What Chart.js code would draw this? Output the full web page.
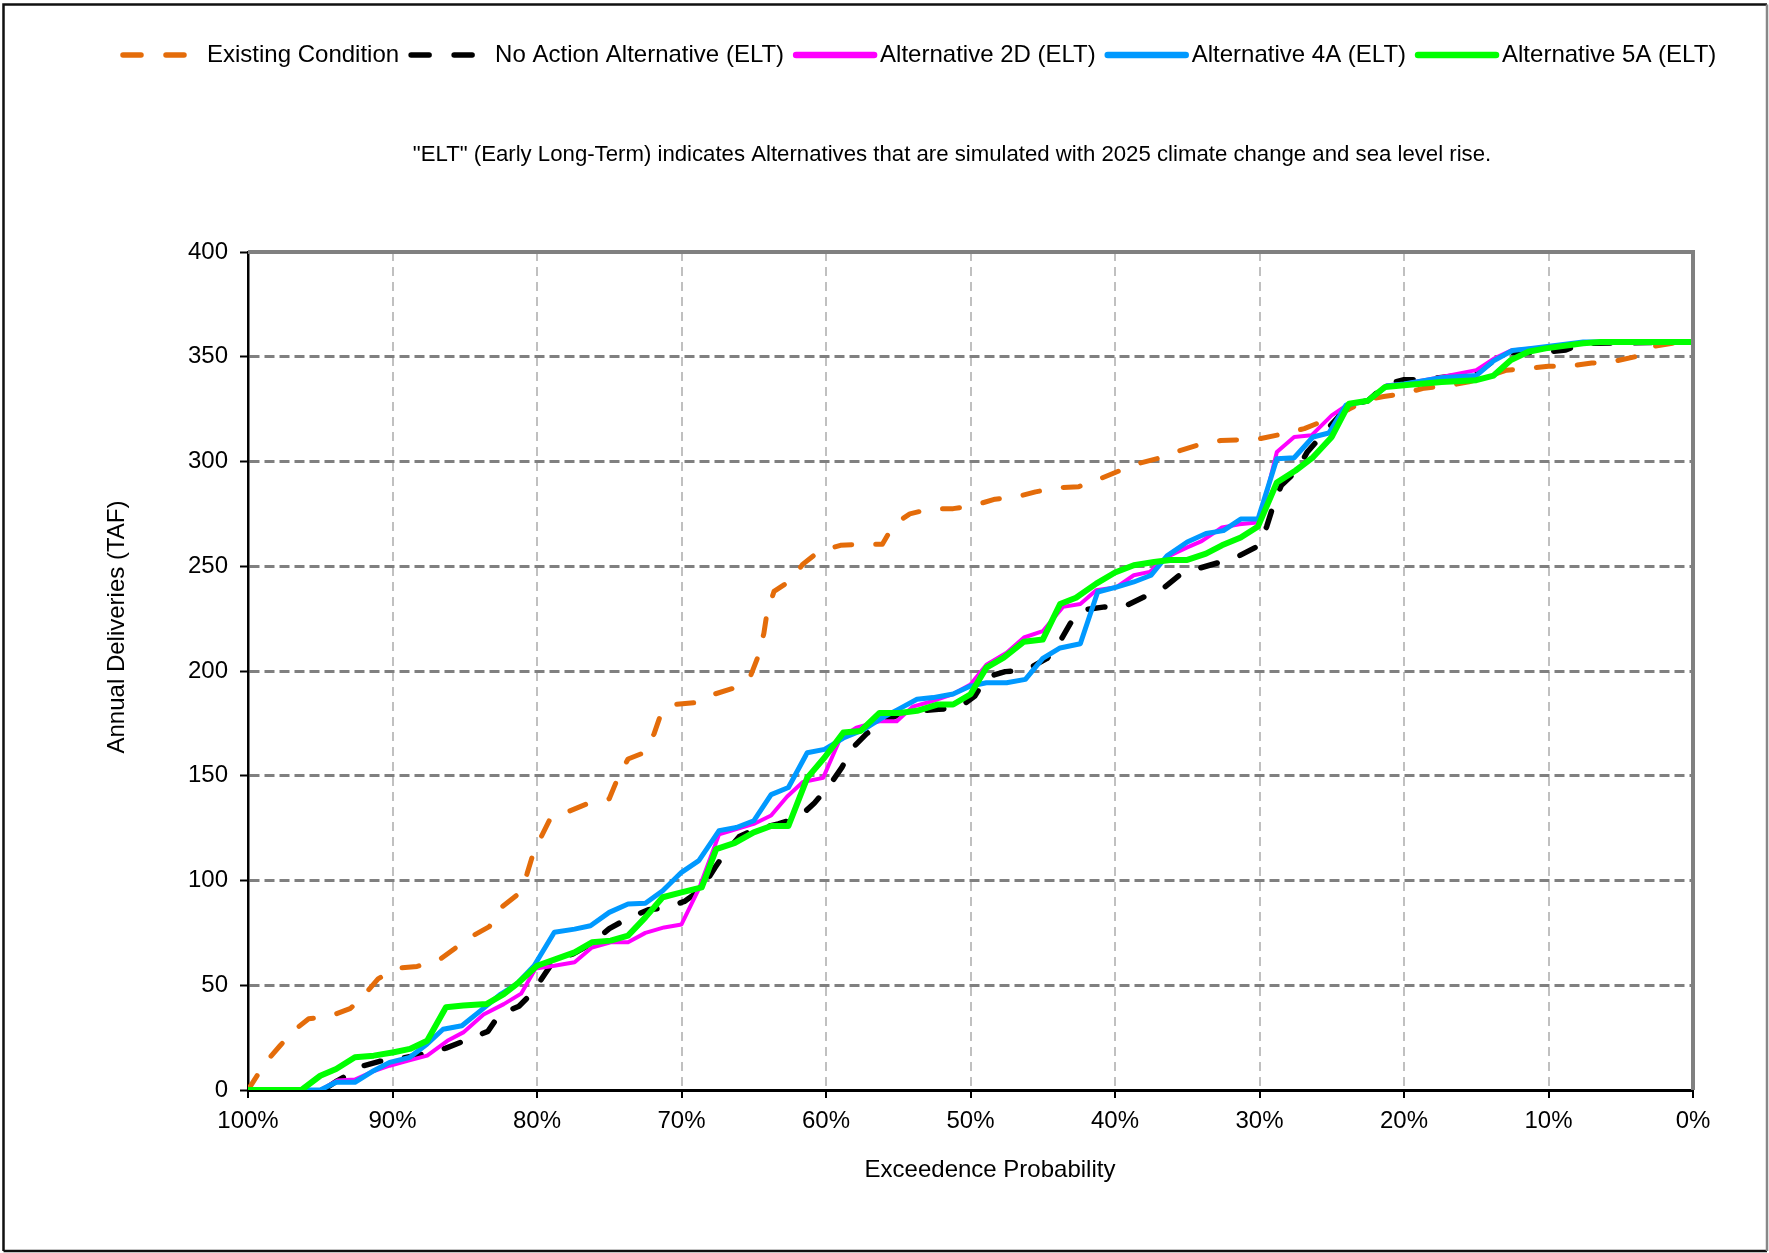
<!DOCTYPE html>
<html>
<head>
<meta charset="utf-8">
<title>Annual Deliveries - Exceedence</title>
<script src="https://cdn.jsdelivr.net/npm/chart.js@4.4.1/dist/chart.umd.min.js"></script>
<style>
  html, body { margin: 0; padding: 0; background: #fff; }
  canvas { display: block; }
</style>
</head>
<body>
<canvas id="deliveryChart" width="1769" height="1253"></canvas>
<script>
// exceedence probability (%) and annual deliveries (TAF) pairs
const existingCondition = [
  [100, 0], [98.8, 13], [97.8, 21], [96.9, 28], [95.8, 34], [94.4, 35], [92.9, 39], [92.0, 45],
  [91.0, 53], [89.8, 58], [88.3, 59], [86.8, 62], [85.6, 68], [84.6, 73], [83.3, 78], [82.5, 87],
  [81.4, 93], [80.7, 103], [80.3, 112], [79.7, 121], [79.05, 130], [77.8, 133], [76.4, 137], [75.0, 139],
  [74.4, 149], [73.7, 158], [72.6, 161], [71.9, 170], [71.4, 180], [70.5, 184], [68.9, 185], [67.7, 189],
  [66.3, 192], [65.2, 198], [64.7, 207], [64.3, 218], [64.1, 227], [63.6, 238], [62.5, 243], [61.6, 251],
  [60.5, 257], [59.0, 260], [57.5, 260.5], [56.1, 260.5], [55.3, 270], [54.2, 275], [52.7, 277.5], [51.2, 277.5],
  [49.8, 279], [48.3, 282], [46.9, 283], [45.5, 285.5], [44.0, 287.5], [42.5, 288], [41.3, 291], [39.9, 295],
  [38.4, 299], [37.0, 301.5], [35.6, 305], [34.2, 308], [32.7, 310], [31.3, 310.4], [29.9, 311], [28.5, 313],
  [26.9, 315.7], [25.5, 319.6], [23.8, 325], [22.5, 329.6], [21.4, 331], [20.1, 332.4], [18.6, 335], [17.1, 336],
  [15.5, 338], [14.0, 341], [12.9, 343.6], [11.5, 344.4], [10.0, 345.5], [8.6, 345.5], [7.0, 347], [5.6, 347.6],
  [4.0, 350], [2.9, 354.8], [1.4, 356.4], [0, 356.7]
];

const noActionElt = [
  [100, 0], [94.8, 0], [94.5, 1.3], [93.8, 4.5], [92.0, 11.6], [90.9, 13.7], [89.5, 15], [88.0, 17],
  [86.3, 20], [85.0, 23.5], [83.4, 28], [82.6, 36], [81.25, 40], [80.3, 46.6], [79.4, 56], [78.8, 62],
  [77.5, 65], [76.2, 70], [75.0, 77], [73.7, 82], [72.3, 86], [71.1, 87], [69.8, 90], [68.6, 96],
  [67.7, 106], [67.0, 113], [66.0, 121], [64.9, 124.5], [63.3, 127], [61.9, 130], [60.8, 137], [59.8, 145],
  [58.9, 154], [58.2, 163], [57.2, 170], [56.0, 176], [54.7, 180], [53.5, 181], [52.2, 181.7], [50.8, 182.5],
  [49.7, 188], [48.9, 197], [47.6, 199.7], [46.2, 200.3], [44.7, 206], [43.9, 213], [43.1, 222.6], [42.4, 229],
  [40.7, 230.6], [39.3, 231], [37.8, 236], [36.7, 239.3], [35.4, 246.5], [34.2, 249], [32.7, 252], [31.4, 255],
  [30.0, 260], [29.5, 269], [29.0, 280], [28.5, 288.5], [27.4, 295.7], [26.7, 304.5], [25.1, 317], [23.8, 327],
  [22.5, 329], [21.2, 337], [20.0, 339], [18.6, 339], [17.1, 340.4], [15.0, 342], [13.8, 348], [12.6, 352],
  [11.2, 352], [10.0, 352.4], [8.8, 353.2], [7.6, 356.4], [0, 357]
];

const alt2dElt = [
  [100, 0], [95.0, 0], [93.8, 4.5], [92.6, 5], [91.3, 9], [90.2, 11.6], [88.9, 14], [87.6, 16.4],
  [86.2, 23.5], [85.1, 27.5], [83.7, 36], [82.3, 41], [81.1, 46], [80.1, 58], [78.8, 59.3], [77.4, 61],
  [76.2, 68], [74.9, 70.5], [73.7, 70.5], [72.5, 75], [71.2, 77.6], [70.0, 79], [68.8, 96], [67.4, 122],
  [66.2, 124.5], [65.0, 127], [63.8, 131], [62.7, 140], [61.6, 147], [60.2, 149], [59.0, 168], [57.9, 173],
  [56.3, 176], [55.1, 176], [54.0, 183], [52.6, 185.7], [51.2, 189], [50.0, 193.6], [48.9, 203], [47.5, 208.7],
  [46.3, 216], [45.0, 219], [43.6, 230.6], [42.4, 232], [41.3, 238.5], [39.9, 240], [38.7, 245.7], [37.6, 247.3],
  [36.4, 254.5], [35.0, 259], [34.0, 262], [32.6, 268.5], [31.4, 270], [30.0, 271], [28.8, 304.5], [27.6, 311.7],
  [26.4, 312.5], [25.0, 322], [23.8, 327.6], [22.5, 329], [21.2, 336.4], [20.0, 337], [17.4, 340.4], [15.0, 343.6],
  [13.8, 349], [12.6, 353], [11.2, 354], [9.3, 355], [7.6, 357], [0, 357]
];

const alt4aElt = [
  [100, 0], [95.0, 0], [93.9, 3.7], [92.6, 3.7], [91.3, 9.2], [90.2, 13.2], [88.8, 15.6], [87.6, 22],
  [86.5, 29], [85.2, 30.7], [83.9, 37.9], [82.5, 45.8], [81.4, 50.6], [80.2, 59.3], [78.8, 75.3], [77.4, 76.8],
  [76.3, 78.4], [75.0, 84.8], [73.7, 88.8], [72.5, 89.1], [71.3, 95.1], [70.0, 103.9], [68.8, 109.5], [67.4, 123.8],
  [66.2, 125.3], [65.0, 128.5], [63.8, 141], [62.6, 144.4], [61.3, 161], [60.1, 162.6], [58.8, 168], [57.4, 172],
  [56.1, 177.7], [55.0, 181.7], [53.7, 186.5], [52.6, 187.3], [51.2, 189], [50.0, 192.8], [48.9, 194.4], [47.5, 194.4],
  [46.2, 196], [45.0, 206], [43.8, 211], [42.4, 213], [41.2, 237.7], [39.9, 240], [38.7, 242.5], [37.5, 245.7],
  [36.4, 255], [35.0, 261.6], [33.7, 265.6], [32.5, 267], [31.3, 272.5], [30.1, 272.5], [28.8, 301.3], [27.6, 301.8],
  [26.3, 311.7], [25.2, 313.6], [24.0, 327], [22.5, 329], [21.2, 336], [20.0, 337], [17.4, 340], [15.0, 341],
  [13.8, 348], [12.5, 353], [11.2, 354], [7.6, 357], [0, 357]
];

const alt5aElt = [
  [100, 0], [96.3, 0], [95.0, 6.8], [93.9, 10], [92.6, 15.6], [91.3, 16.4], [89.9, 18], [88.8, 19.6],
  [87.6, 23.5], [86.3, 39.5], [85.1, 40.3], [83.5, 41], [82.3, 45.8], [81.25, 51.4], [80.0, 59.3], [78.7, 62.5],
  [77.4, 65.7], [76.2, 70.5], [74.9, 71.3], [73.7, 73.7], [72.5, 82.4], [71.3, 92], [70.0, 94.3], [68.6, 96.7],
  [67.6, 115], [66.3, 118], [65.0, 123], [63.8, 126], [62.6, 126], [61.3, 149], [60.1, 158.7], [58.8, 170.6],
  [57.6, 171.4], [56.3, 180], [54.9, 180], [53.7, 181], [52.3, 184], [51.2, 184], [50.0, 188.9], [48.9, 201.6],
  [47.7, 206.4], [46.3, 214], [45.0, 215], [43.8, 232], [42.7, 235], [41.3, 241.7], [40.0, 247], [38.7, 250.5],
  [37.3, 252], [36.2, 253], [35.0, 253], [33.7, 256], [32.6, 260], [31.3, 263.7], [30.1, 269], [28.8, 290],
  [27.5, 295.7], [26.3, 302], [25.0, 311.7], [23.8, 327.6], [22.5, 329], [21.3, 335.6], [20.0, 336.4], [17.4, 338],
  [15.0, 338.8], [13.8, 341], [12.6, 348.4], [11.4, 352.4], [10.2, 354], [7.6, 356.4], [6.4, 357], [0, 357]
];

const seriesNames = [
  'Existing Condition',
  'No Action Alternative (ELT)',
  'Alternative 2D (ELT)',
  'Alternative 4A (ELT)',
  'Alternative 5A (ELT)'
];
const seriesColors = ['#E46C0A', '#000000', '#FF00FF', '#0099FF', '#00FF00'];
const yTicks = [0, 50, 100, 150, 200, 250, 300, 350, 400];
const xTicks = [100, 90, 80, 70, 60, 50, 40, 30, 20, 10, 0];
const noteText = '"ELT" (Early Long-Term) indicates Alternatives that are simulated with 2025 climate change and sea level rise.';
const xTitle = 'Exceedence Probability';
const yTitle = 'Annual Deliveries (TAF)';

const FONT = "'Liberation Sans', Arial, Helvetica, sans-serif";
Chart.defaults.font.family = FONT;
Chart.defaults.font.size = 24;
Chart.defaults.color = '#000';

const toPoints = arr => arr.map(([x, y]) => ({ x, y }));

function makeDataset(idx, pts, width, dash) {
  return {
    label: seriesNames[idx],
    data: toPoints(pts),
    borderColor: seriesColors[idx],
    backgroundColor: seriesColors[idx],
    borderWidth: width,
    borderDash: dash,
    borderCapStyle: dash.length ? 'round' : 'butt',
    borderJoinStyle: 'round',
    showLine: true,
    pointRadius: 0,
    pointHoverRadius: 0,
    tension: 0,
    order: 5 - idx
  };
}

// frame, plot border, legend row, note line and axis titles
const decorations = {
  id: 'decorations',
  afterDatasetsDraw(chart) {
    const { ctx, chartArea: a } = chart;
    ctx.save();
    ctx.strokeStyle = '#808080';
    ctx.lineWidth = 4;
    ctx.setLineDash([]);
    ctx.beginPath();
    ctx.moveTo(a.left, a.top);
    ctx.lineTo(a.right, a.top);
    ctx.lineTo(a.right, a.bottom);
    ctx.stroke();
    ctx.restore();
  },
  afterDraw(chart) {
    const { ctx } = chart;
    ctx.save();

    // outer frame
    ctx.lineWidth = 2.5;
    ctx.strokeStyle = '#111';
    ctx.beginPath();
    ctx.moveTo(3.5, 1251);
    ctx.lineTo(3.5, 4.5);
    ctx.lineTo(1767, 4.5);
    ctx.stroke();
    ctx.beginPath();
    ctx.moveTo(3.5, 1251);
    ctx.lineTo(1767, 1251);
    ctx.stroke();
    ctx.strokeStyle = '#888';
    ctx.beginPath();
    ctx.moveTo(1767, 4.5);
    ctx.lineTo(1767, 1251);
    ctx.stroke();

    // legend
    ctx.font = '24px ' + FONT;
    ctx.textBaseline = 'middle';
    ctx.textAlign = 'left';
    let x = 120;
    const y = 55;
    chart.data.datasets.forEach(ds => {
      ctx.strokeStyle = ds.borderColor;
      ctx.lineWidth = ds.borderDash.length ? 5.5 : 6.5;
      ctx.lineCap = 'round';
      ctx.setLineDash(ds.borderDash.length ? [18, 25] : []);
      ctx.beginPath();
      ctx.moveTo(x + 3, y);
      ctx.lineTo(x + 81, y);
      ctx.stroke();
      ctx.setLineDash([]);
      ctx.fillStyle = '#000';
      ctx.fillText(ds.label, x + 87, y);
      x += 87 + ctx.measureText(ds.label).width + 9;
    });

    // axis titles
    ctx.textAlign = 'center';
    ctx.fillText(xTitle, 990, 1170);
    ctx.save();
    ctx.translate(117, 627);
    ctx.rotate(-Math.PI / 2);
    ctx.fillText(yTitle, 0, 0);
    ctx.restore();

    // note under the legend
    ctx.font = '22.2px ' + FONT;
    ctx.fillText(noteText, 952, 155);
    ctx.restore();
  }
};

const chart = new Chart(document.getElementById('deliveryChart'), {
  type: 'scatter',
  data: {
    datasets: [
      makeDataset(0, existingCondition, 5, [17, 24]),
      makeDataset(1, noActionElt, 5.5, [17, 24]),
      makeDataset(2, alt2dElt, 4, []),
      makeDataset(3, alt4aElt, 5, []),
      makeDataset(4, alt5aElt, 6, [])
    ]
  },
  options: {
    responsive: false,
    devicePixelRatio: 1,
    animation: false,
    layout: { padding: { left: 0, right: 76, top: 252, bottom: 0 } },
    plugins: {
      legend: { display: false },
      tooltip: { enabled: false }
    },
    scales: {
      x: {
        type: 'linear',
        reverse: true,
        min: 0,
        max: 100,
        afterBuildTicks: scale => { scale.ticks = xTicks.map(v => ({ value: v })); },
        afterFit: scale => { scale.height = 163; },
        ticks: {
          padding: 9,
          maxRotation: 0,
          autoSkip: false,
          callback: v => v + '%'
        },
        grid: {
          color: '#c0c0c0',
          lineWidth: 2,
          tickColor: '#000',
          tickWidth: 2,
          tickLength: 8,
          tickBorderDash: []
        },
        border: { display: true, color: '#000', width: 3, dash: [9, 6] }
      },
      y: {
        min: 0,
        max: 400,
        afterBuildTicks: scale => { scale.ticks = yTicks.map(v => ({ value: v })); },
        afterFit: scale => { scale.width = 248; },
        ticks: { padding: 12, autoSkip: false },
        grid: {
          color: '#808080',
          lineWidth: 3,
          tickColor: '#000',
          tickWidth: 2,
          tickLength: 8,
          tickBorderDash: []
        },
        border: { display: true, color: '#000', width: 2.5, dash: [10, 5] }
      }
    }
  },
  plugins: [decorations]
});
</script>
</body>
</html>
